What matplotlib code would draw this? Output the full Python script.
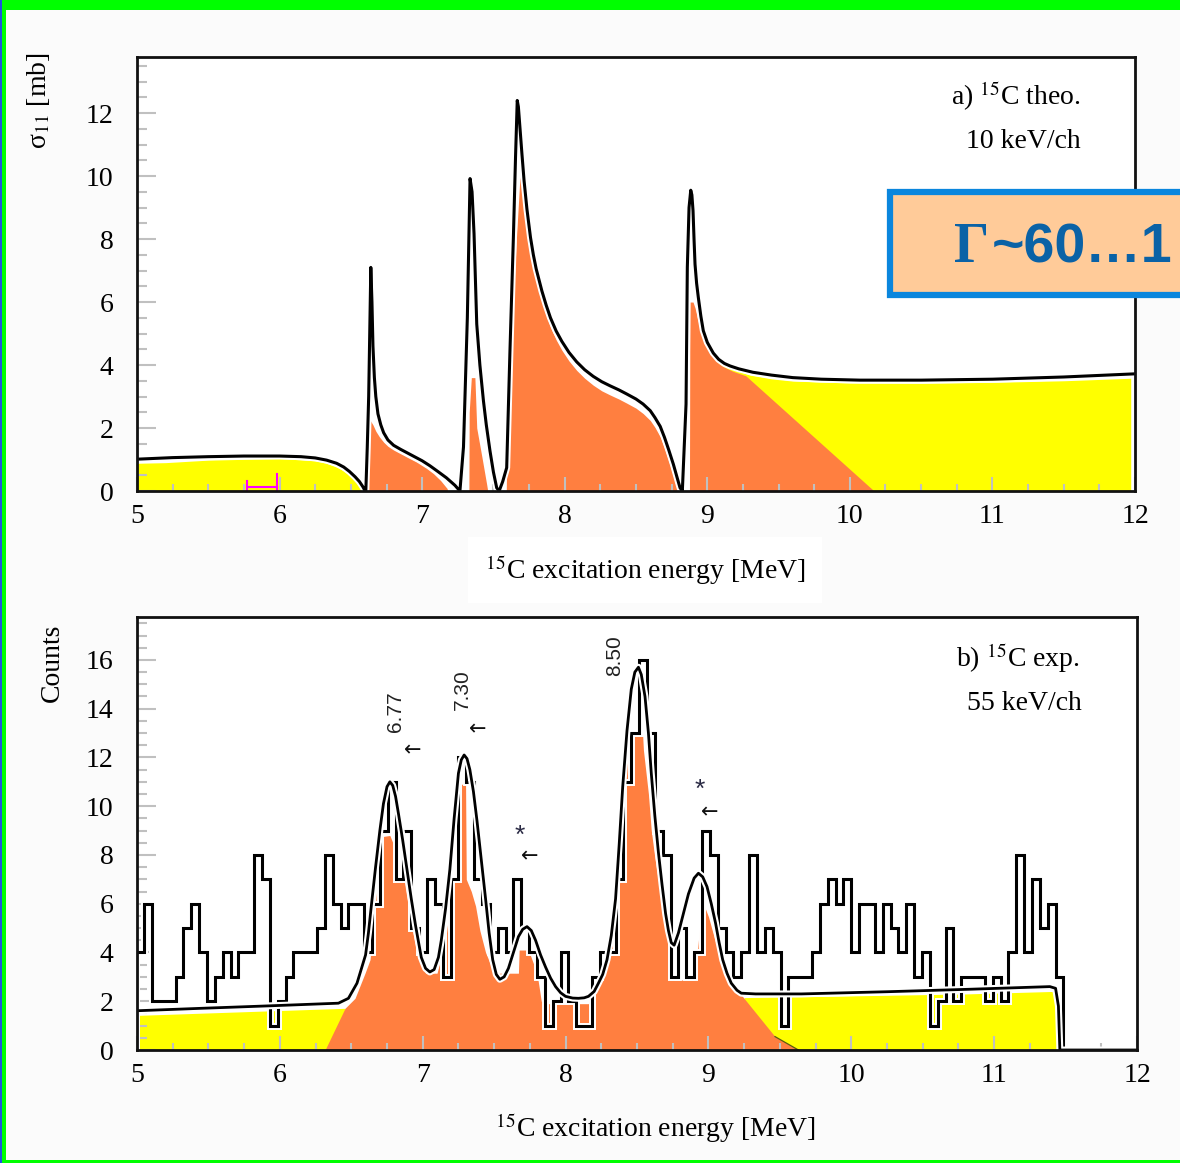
import numpy as np
import matplotlib
matplotlib.use("Agg")
import matplotlib.pyplot as plt
import matplotlib.patheffects as pe
from matplotlib.patches import Rectangle
from matplotlib.ticker import MultipleLocator

# ---------------- panel a) 15C theory, 10 keV/ch ----------------
theo_E = [5.0, 5.25, 5.5, 5.75, 6.0, 6.15, 6.25, 6.33, 6.40, 6.45, 6.49, 6.53, 6.56, 6.585,
          6.60, 6.605,
          6.615, 6.625, 6.632, 6.64, 6.648, 6.655, 6.665, 6.675, 6.69, 6.71, 6.73, 6.76, 6.80,
          6.85, 6.90, 6.95, 7.0, 7.055, 7.11, 7.17, 7.23, 7.265,
          7.29, 7.317, 7.336, 7.35, 7.364, 7.383, 7.405, 7.43, 7.45, 7.476, 7.50, 7.523, 7.54,
          7.565, 7.593, 7.616, 7.64, 7.655, 7.667, 7.675, 7.685, 7.70, 7.715, 7.735, 7.76,
          7.78, 7.80, 7.84, 7.87, 7.90, 7.94, 7.98, 8.03, 8.084, 8.14, 8.20, 8.26, 8.318, 8.38,
          8.435, 8.50, 8.55, 8.60, 8.633, 8.67, 8.70, 8.73, 8.762, 8.79, 8.809, 8.825,
          8.851, 8.86, 8.872, 8.884, 8.892, 8.90, 8.907, 8.914, 8.925, 8.937, 8.955, 8.972,
          9.0, 9.042, 9.08, 9.12, 9.16, 9.22, 9.32, 9.45, 9.60, 9.8, 10.07, 10.5, 11.0,
          11.5, 12.0]
theo_sigma = [1.01, 1.06, 1.09, 1.11, 1.11, 1.09, 1.05, 0.98, 0.88, 0.76, 0.62, 0.45, 0.3, 0.13,
              0.0, 0.0,
              1.38, 3.0, 4.9, 7.1, 6.0, 4.6, 3.6, 3.0, 2.45, 2.1, 1.85, 1.62, 1.45,
              1.32, 1.2, 1.08, 0.96, 0.8, 0.62, 0.42, 0.18, 0.0,
              1.4, 5.5, 9.92, 9.5, 8.17, 5.3, 4.0, 2.86, 2.1, 1.27, 0.6, 0.1, 0.0,
              0.3, 0.74, 4.46, 8.06, 10.6, 12.4, 12.2, 11.6, 10.7, 9.85, 8.95, 8.05,
              7.5, 7.05, 6.35, 5.9, 5.5, 5.08, 4.75, 4.4, 4.1, 3.85, 3.64, 3.47, 3.34, 3.21,
              3.08, 2.92, 2.76, 2.55, 2.33, 2.05, 1.7, 1.3, 0.85, 0.4, 0.1, 0.0,
              2.76, 7.1, 9.0, 9.55, 9.4, 8.9, 8.0, 7.2, 6.6, 6.15, 5.55, 5.09,
              4.72, 4.38, 4.18, 4.05, 3.97, 3.88, 3.77, 3.68, 3.6, 3.55, 3.52, 3.52, 3.55,
              3.62, 3.72]

theo_bg_left_E = [5.0, 5.2, 5.5, 6.0, 6.25, 6.33, 6.4, 6.45, 6.5, 6.56, 6.585]
theo_bg_left_y = [0.88, 0.9, 0.98, 1.03, 0.96, 0.88, 0.76, 0.64, 0.47, 0.2, 0.0]
theo_bg_right_E = [9.0, 9.04, 9.08, 9.12, 9.16, 9.22, 9.3, 9.45, 9.6, 10.0, 10.5, 11.0,
                   11.5, 11.97]
theo_bg_right_y = [4.66, 4.32, 4.12, 3.99, 3.9, 3.8, 3.68, 3.56, 3.49, 3.43, 3.42, 3.45,
                   3.5, 3.58]

res1_E = [6.62, 6.625, 6.635, 6.655, 6.675, 6.70, 6.73, 6.76, 6.80, 6.85, 6.90, 6.96, 7.03,
          7.08, 7.13, 7.175, 7.18]
res1_y = [0.0, 1.4, 2.25, 2.1, 1.9, 1.72, 1.55, 1.42, 1.3, 1.18, 1.06, 0.92, 0.72,
          0.55, 0.33, 0.08, 0.0]
res2_E = [7.328, 7.33, 7.345, 7.37, 7.383, 7.42, 7.453, 7.46]
res2_y = [0.0, 2.5, 3.6, 3.6, 2.0, 1.06, 0.2, 0.0]
res3_E = [7.59, 7.593, 7.616, 7.64, 7.663, 7.686, 7.70, 7.715, 7.735, 7.76, 7.78, 7.80, 7.84,
          7.87, 7.90, 7.94, 7.98, 8.03, 8.084, 8.14, 8.20, 8.26, 8.318, 8.38, 8.435, 8.50,
          8.55, 8.60, 8.633, 8.67, 8.70, 8.73, 8.76, 8.78, 8.79]
res3_y = [0.0, 0.9, 4.24, 6.15, 8.17, 9.97, 9.7, 9.1, 8.4, 7.6, 7.1, 6.7, 6.05,
          5.6, 5.2, 4.8, 4.47, 4.13, 3.83, 3.58, 3.36, 3.18, 3.05, 2.92, 2.79, 2.63,
          2.46, 2.24, 2.02, 1.72, 1.36, 0.95, 0.5, 0.2, 0.0]
res4_E = [8.875, 8.878, 8.90, 8.915, 8.93, 8.95, 8.975, 9.0, 9.04, 9.08, 9.12, 9.18, 9.27,
          10.17]
res4_y = [0.0, 6.0, 6.0, 5.8, 5.5, 5.15, 4.82, 4.55, 4.25, 4.05, 3.93, 3.8, 3.66, 0.0]

resolution_E = [5.77, 5.98]
resolution_lo = 0.13
resolution_caps = [0.33, 0.55]

# ---------------- panel b) 15C experiment, 55 keV/ch ----------------
exp_first_edge = 4.995
exp_bin_width = 0.055
exp_counts = [4, 6, 2, 2, 2, 3, 5, 6, 4, 2, 3, 4, 3, 4, 4, 8, 7, 1, 2, 3,
              4, 4, 4, 5, 8, 6, 5, 6, 6, 4, 6, 9, 11, 7, 9, 5, 4, 7, 6, 3,
              7, 12, 11, 7, 6, 4, 5, 4, 7, 5, 4, 3, 1, 2, 4, 2, 1, 1, 3, 4,
              4, 7, 11, 13, 16, 13, 9, 8, 3, 5, 3, 4, 9, 8, 5, 4, 3, 4, 8, 4,
              5, 4, 1, 3, 3, 3, 4, 6, 7, 6, 7, 4, 6, 6, 4, 6, 5, 4, 6, 3,
              4, 1, 2, 5, 2, 3, 3, 3, 2, 3, 2, 4, 8, 4, 7, 5, 6, 3]

fit_E = [5.0, 5.45, 5.92, 6.41, 6.48, 6.54, 6.60, 6.62, 6.64, 6.67, 6.70, 6.725, 6.75, 6.77,
         6.79, 6.81, 6.83, 6.86, 6.89, 6.92, 6.95, 6.99, 7.02, 7.05, 7.08, 7.11, 7.13, 7.16,
         7.19, 7.22, 7.25, 7.27, 7.29, 7.31, 7.33, 7.355, 7.38, 7.41, 7.44, 7.465, 7.49,
         7.515, 7.54, 7.57, 7.60, 7.635, 7.67, 7.70, 7.73, 7.76, 7.79, 7.825, 7.86, 7.895,
         7.93, 7.965, 8.0, 8.05, 8.09, 8.13, 8.16, 8.20, 8.23, 8.26, 8.29, 8.32, 8.35, 8.375,
         8.40, 8.43, 8.46, 8.485, 8.51, 8.53, 8.556, 8.58, 8.60, 8.625, 8.65, 8.675, 8.70,
         8.72, 8.74, 8.76, 8.79, 8.825, 8.86, 8.90, 8.93, 8.96, 8.99, 9.02, 9.05, 9.075, 9.10,
         9.13, 9.16, 9.20, 9.23, 9.33, 9.65, 10.25, 10.82, 11.39, 11.43, 11.45, 11.46, 12.0]
fit_counts = [1.61, 1.71, 1.81, 1.92, 2.12, 2.74, 3.9, 4.8, 5.9, 7.5, 9.0, 10.1, 10.8, 11.0,
              10.85, 10.4, 9.7, 8.6, 7.4, 6.2, 5.1, 3.8, 3.35, 3.2, 3.3, 3.8, 4.5, 5.8,
              7.4, 9.5, 11.35, 11.9, 12.1, 11.95, 11.5, 10.6, 9.4, 7.8, 6.2, 4.8, 3.7,
              3.1, 2.9, 3.0, 3.35, 4.0, 4.65, 4.95, 5.06, 4.9, 4.5, 3.9, 3.4, 2.95,
              2.6, 2.35, 2.2, 2.13, 2.12, 2.14, 2.2, 2.4, 2.74, 3.1, 3.7, 4.7, 6.2, 8.4,
              10.8, 13.1, 14.8, 15.5, 15.7, 15.4, 14.5, 13.0, 11.35, 9.6, 8.1, 6.8, 5.6,
              4.9, 4.4, 4.3, 4.8, 5.6, 6.4, 7.05, 7.25, 7.1, 6.7, 6.0, 5.2, 4.4, 3.7,
              3.15, 2.74, 2.45, 2.33, 2.3, 2.3, 2.39, 2.49, 2.6, 2.53, 1.8, 0.0, 0.0]

exp_bg_left_E = [5.0, 5.5, 6.0, 6.456, 6.456]
exp_bg_left_y = [1.42, 1.52, 1.62, 1.71, 0.0]
exp_bg_right_E = [9.2, 9.25, 10.0, 10.8, 11.4, 11.44, 11.445]
exp_bg_right_y = [0.0, 2.15, 2.22, 2.3, 2.4, 2.35, 0.0]

peaks_fill_E = [6.316, 6.456, 6.526, 6.596, 6.631, 6.666, 6.70, 6.713, 6.77, 6.82, 6.87, 6.91,
                6.96, 7.02, 7.10, 7.16, 7.20, 7.225, 7.23, 7.30, 7.305, 7.34, 7.37, 7.40, 7.44,
                7.50, 7.67, 7.675, 7.74, 7.80, 7.83, 7.86, 8.16, 8.19, 8.22, 8.30, 8.34, 8.38,
                8.43, 8.48, 8.54, 8.545, 8.58, 8.60, 8.624, 8.67, 8.72, 8.754, 8.76, 8.90, 8.92,
                8.953, 8.964, 9.0, 9.046, 9.093, 9.14, 9.186, 9.23, 9.466, 9.63]
peaks_fill_y = [0.0, 1.71, 2.12, 3.15, 3.7, 5.75, 8.0, 8.75, 8.8, 8.07, 6.98, 5.47,
                3.97, 3.15, 3.15, 4.5, 6.4, 7.2, 10.9, 10.9, 7.0, 6.5, 5.9, 4.9, 4.0,
                3.15, 3.15, 4.1, 4.1, 3.15, 2.0, 1.9, 1.9, 2.46, 3.0, 4.0, 7.0, 10.8,
                12.7, 12.86, 12.86, 12.3, 10.5, 9.0, 7.93, 6.16, 4.5, 3.15, 2.87, 2.87, 3.83,
                6.02, 6.02, 5.47, 4.5, 3.7, 3.0, 2.6, 2.26, 0.55, 0.0]

peak_labels = ["6.77", "7.30", "8.50"]
peak_label_E = [6.806, 7.275, 8.346]
peak_label_c = [13.87, 14.77, 16.16]
arrow_E = [6.93, 7.387, 7.75, 9.01]
arrow_c = [12.3, 13.17, 7.96, 9.76]
star_E = [7.68, 8.94]
star_c = [8.78, 10.67]

# ---------------- style ----------------
W, H = 1180, 1163
ORANGE = "#ff7f40"
YELLOW = "#ffff00"
TICKC = "#c0c0c0"
SERIF = "Liberation Serif"
plt.rcParams["font.family"] = [SERIF, "DejaVu Serif"]
plt.rcParams["mathtext.fontset"] = "stix"

halo = [pe.Stroke(linewidth=5.0, foreground="white"), pe.Normal()]

fig = plt.figure(figsize=(W / 100, H / 100), dpi=100, facecolor="#fbfbfb")


def fx(px):
    return px / W


def fy(py):
    return 1 - py / H


def style_axes(ax, ymax, ymajor):
    ax.set_facecolor("white")
    ax.set_xlim(5, 12)
    ax.set_ylim(0, ymax)
    ax.xaxis.set_major_locator(MultipleLocator(1))
    ax.xaxis.set_minor_locator(MultipleLocator(0.25))
    ax.yaxis.set_major_locator(MultipleLocator(ymajor))
    ax.yaxis.set_minor_locator(MultipleLocator(0.5))
    ax.set_axisbelow(False)
    ax.tick_params(axis="both", which="both", direction="in", color=TICKC, width=1.5,
                   top=False, right=False)
    ax.tick_params(axis="y", which="major", length=13.5, labelsize=20, pad=17)
    ax.tick_params(axis="y", which="minor", length=7)
    ax.tick_params(axis="x", which="major", length=10, labelsize=20, pad=9)
    ax.tick_params(axis="x", which="minor", length=5)
    for s in ax.spines.values():
        s.set_linewidth(2.0)
        s.set_color("#111111")
        s.set_zorder(6)


# ---------------- top panel ----------------
ax1 = fig.add_axes([fx(137), fy(491), fx(1135) - fx(137), fy(57) - fy(491)])
style_axes(ax1, 13.78, 2)
ax1.fill_between(theo_bg_left_E, theo_bg_left_y, 0, color=YELLOW, lw=0, zorder=1)
ax1.fill_between(theo_bg_right_E, theo_bg_right_y, 0, color=YELLOW, lw=0, zorder=1)
for rE, ry in [(res1_E, res1_y), (res2_E, res2_y), (res3_E, res3_y), (res4_E, res4_y)]:
    ax1.fill_between(rE, ry, 0, color=ORANGE, lw=0, zorder=1.1)
ax1.plot(resolution_E, [resolution_lo, resolution_lo], color="#ff00ff", lw=1.5, zorder=3)
for xe, cap in zip(resolution_E, resolution_caps):
    ax1.plot([xe, xe], [0, cap], color="#ff00ff", lw=1.5, zorder=3)
ax1.plot(theo_E, theo_sigma, color="black", lw=2.2, zorder=4, path_effects=halo,
         solid_joinstyle="round")
ax1.text(0.946, 0.91, r"a) $^{15}$C theo.", transform=ax1.transAxes, ha="right",
         va="center", fontsize=20)
ax1.text(0.946, 0.805, "10 keV/ch", transform=ax1.transAxes, ha="right", va="center",
         fontsize=20)

# ---------------- bottom panel ----------------
ax2 = fig.add_axes([fx(137), fy(1050), fx(1137) - fx(137), fy(617) - fy(1050)])
style_axes(ax2, 17.76, 2)
edges = exp_first_edge + exp_bin_width * np.arange(len(exp_counts) + 1)
ax2.fill_between(exp_bg_left_E, exp_bg_left_y, 0, color=YELLOW, lw=0, zorder=1)
ax2.fill_between(exp_bg_right_E, exp_bg_right_y, 0, color=YELLOW, lw=0, zorder=1)
ax2.fill_between(peaks_fill_E, peaks_fill_y, 0, color=ORANGE, lw=0, zorder=1.1)
ax2.plot([9.466, 9.63], [0.55, 0.0], color="#5a5a10", lw=0.9, zorder=1.2)
ax2.stairs(exp_counts, edges, baseline=0, color="black", lw=2.2, zorder=4,
           path_effects=halo)
ax2.plot(fit_E, fit_counts, color="black", lw=2.0, zorder=4.5, path_effects=halo,
         solid_joinstyle="round")

sans = ["Liberation Sans", "DejaVu Sans"]
for lab, e, c in zip(peak_labels, peak_label_E, peak_label_c):
    ax2.text(e, c, lab, rotation=90, ha="center", va="center", fontsize=15,
             family=sans, color="#222222", zorder=7)
for e, c in zip(arrow_E, arrow_c):
    ax2.text(e, c, "\u2190", ha="center", va="center", fontsize=15,
             family=["DejaVu Sans"], color="#111111", zorder=7)
for e, c in zip(star_E, star_c):
    ax2.text(e, c, "*", ha="center", va="center", fontsize=19, family=sans,
             color="#2a2a44", zorder=7)
ax2.text(0.943, 0.905, r"b) $^{15}$C exp.", transform=ax2.transAxes, ha="right",
         va="center", fontsize=20)
ax2.text(0.945, 0.80, "55 keV/ch", transform=ax2.transAxes, ha="right", va="center",
         fontsize=20)

# ---------------- axis titles ----------------
fig.text(fx(38), fy(52), "\u03c3$_{11}$ [mb]", rotation=90, ha="center", va="top",
         fontsize=20)
fig.text(fx(52), fy(624), "Counts", rotation=90, ha="center", va="top", fontsize=20)
fig.text(fx(645), fy(570), r"$^{15}$C excitation energy [MeV]", ha="center",
         va="center", fontsize=20,
         bbox=dict(boxstyle="square,pad=0.6", fc="white", ec="none"))
fig.text(fx(655), fy(1128), r"$^{15}$C excitation energy [MeV]", ha="center",
         va="center", fontsize=20)

# ---------------- highlighted width box ----------------
fig.patches.append(Rectangle((fx(890), fy(295)), 0.3, fy(192) - fy(295),
                             transform=fig.transFigure, fc="#ffcb99", ec="#0a86dd",
                             lw=4.5, zorder=10))
fig.text(fx(954), fy(262), "\u0393", ha="left", va="baseline", fontsize=40,
         family=[SERIF], weight="bold", color="#0a62a6", zorder=11)
fig.text(fx(992), fy(262), "~60\u20261", ha="left", va="baseline", fontsize=40,
         family=sans, weight="bold", color="#0a62a6", zorder=11)

# ---------------- green frame ----------------
fig.patches.append(Rectangle((0, fy(10)), 1, fy(0) - fy(10), transform=fig.transFigure,
                             fc="#00ff00", ec="none", zorder=20))
fig.patches.append(Rectangle((0, 0), fx(6), 1, transform=fig.transFigure,
                             fc="#00ff00", ec="none", zorder=20))
fig.patches.append(Rectangle((0, 0), fx(1.5), 1, transform=fig.transFigure,
                             fc="#2050e0", ec="none", zorder=21))
fig.patches.append(Rectangle((0, 0), 1, fy(1160), transform=fig.transFigure,
                             fc="#00ff00", ec="none", zorder=20))

fig.savefig("out.png", dpi=100, facecolor=fig.get_facecolor())
